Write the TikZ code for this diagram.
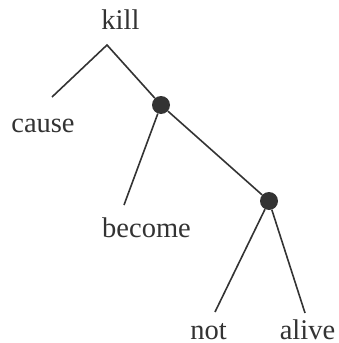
\documentclass[tikz,border=0pt]{standalone}
\usepackage{fontspec}
\setmainfont{Liberation Serif}
\definecolor{ink}{HTML}{333333}
\begin{document}
\begin{tikzpicture}[x=1pt,y=-1pt,
  lbl/.style={anchor=base,inner sep=0pt,text=ink,font=\fontsize{28.5}{30}\selectfont},
  dotnode/.style={circle,fill=ink,inner sep=0pt,minimum size=18pt},
  edge/.style={draw=ink,line width=1.6pt}]
\useasboundingbox (0,0) rectangle (339,343);
\node[lbl] (kill) at (120.5,29) {kill};
\node[lbl] (cause) at (43,132) {cause};
\node[lbl] (become) at (146.5,237) {become};
\node[lbl] (not) at (208.5,339) {not};
\node[lbl] (alive) at (307.5,339) {alive};
\coordinate (apex) at (107,45);
\coordinate (ce) at (52,97);
\coordinate (be) at (124,205);
\coordinate (ne) at (215,312);
\coordinate (ae) at (305,313);
\node[dotnode] (d1) at (161,105) {};
\node[dotnode] (d2) at (269,201) {};
\path[edge] (ce) -- (apex) -- (d1);
\path[edge] (d1) -- (be);
\path[edge] (d1) -- (d2);
\path[edge] (d2) -- (ne);
\path[edge] (d2) -- (ae);
\end{tikzpicture}
\end{document}
